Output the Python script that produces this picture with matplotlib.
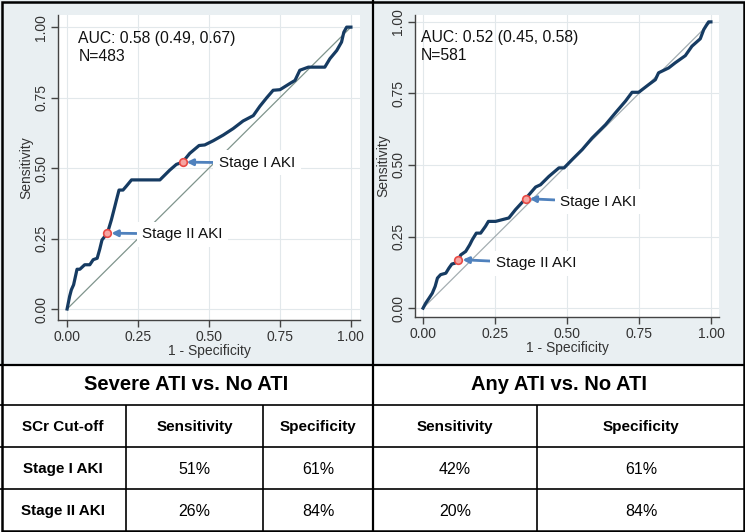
import matplotlib
matplotlib.use('Agg')
from matplotlib import pyplot as plt
from matplotlib.patches import Rectangle

plt.rcParams['font.family'] = ['Liberation Sans', 'DejaVu Sans']

# ROC, severe ATI vs. no ATI
fpr_severe = [0, 0.009, 0.015, 0.023, 0.035, 0.045, 0.062, 0.080, 0.092, 0.106,
              0.115, 0.123, 0.142, 0.156, 0.168, 0.174, 0.183, 0.197, 0.209, 0.227,
              0.327, 0.362, 0.385, 0.407, 0.432, 0.465, 0.485, 0.515, 0.550, 0.585,
              0.620, 0.656, 0.679, 0.703, 0.726, 0.750, 0.785, 0.803, 0.820, 0.850,
              0.908, 0.926, 0.950, 0.967, 0.975, 0.985, 1.0]
tpr_severe = [0, 0.045, 0.068, 0.086, 0.141, 0.141, 0.157, 0.157, 0.175, 0.180,
              0.212, 0.245, 0.269, 0.316, 0.363, 0.387, 0.422, 0.422, 0.436, 0.458,
              0.458, 0.493, 0.513, 0.521, 0.552, 0.580, 0.582, 0.597, 0.617, 0.640,
              0.667, 0.686, 0.719, 0.749, 0.776, 0.778, 0.800, 0.811, 0.847, 0.858,
              0.858, 0.888, 0.917, 0.947, 0.982, 1.0, 1.0]
auc_severe = 'AUC: 0.58 (0.49, 0.67)'
n_severe = 'N=483'
cuts_severe = [(0.407, 0.521), (0.142, 0.269)]

# ROC, any ATI vs. no ATI
fpr_any = [0, 0.009, 0.021, 0.032, 0.042, 0.050, 0.061, 0.079, 0.090, 0.100,
           0.111, 0.123, 0.131, 0.148, 0.162, 0.171, 0.185, 0.200, 0.217, 0.227,
           0.252, 0.298, 0.321, 0.342, 0.356, 0.373, 0.391, 0.408, 0.437, 0.472,
           0.490, 0.518, 0.553, 0.587, 0.634, 0.668, 0.703, 0.726, 0.749, 0.784,
           0.807, 0.818, 0.853, 0.876, 0.911, 0.934, 0.963, 0.975, 0.986, 0.992, 1.0]
tpr_any = [0, 0.017, 0.035, 0.052, 0.076, 0.105, 0.117, 0.122, 0.140, 0.154,
           0.157, 0.169, 0.186, 0.198, 0.221, 0.239, 0.262, 0.262, 0.286, 0.303,
           0.303, 0.315, 0.344, 0.367, 0.382, 0.402, 0.423, 0.431, 0.460, 0.490,
           0.490, 0.519, 0.554, 0.594, 0.641, 0.682, 0.723, 0.754, 0.754, 0.781,
           0.798, 0.822, 0.839, 0.857, 0.882, 0.915, 0.941, 0.973, 0.991, 1.0, 1.0]
auc_any = 'AUC: 0.52 (0.45, 0.58)'
n_any = 'N=581'
cuts_any = [(0.356, 0.382), (0.123, 0.169)]

cut_names = ['Stage I AKI', 'Stage II AKI']
ticks = [0, 0.25, 0.5, 0.75, 1.0]
tick_labels = ['0.00', '0.25', '0.50', '0.75', '1.00']

# table
table_groups = ['Severe ATI vs. No ATI', 'Any ATI vs. No ATI']
table_header = ['SCr Cut-off', 'Sensitivity', 'Specificity', 'Sensitivity', 'Specificity']
table_rows = [['Stage I AKI', '51%', '61%', '42%', '61%'],
              ['Stage II AKI', '26%', '84%', '20%', '84%']]

W, H = 745, 532
BG = '#e9eff2'
LINE = '#163b62'


def plot_roc(ax, fpr, tpr, auc_txt, n_txt, cuts, label_xy, text_xy, xlim, ylim, diag_col):
    ax.set_xlim(*xlim)
    ax.set_ylim(*ylim)
    ax.grid(True, color='#e2e8eb', lw=0.8, zorder=0)
    ax.set_axisbelow(True)
    ax.plot([0, 1], [0, 1], color=diag_col, lw=0.9, zorder=1)
    ax.plot(fpr, tpr, color=LINE, lw=2.3, zorder=3, solid_joinstyle='round')
    for name, (x, y), (tx, ty) in zip(cut_names, cuts, label_xy):
        ax.annotate(name, xy=(x + 0.014, y), xytext=(tx, ty), ha='left', va='center',
                    fontsize=11, color='#111111', zorder=4,
                    bbox=dict(facecolor='white', edgecolor='none', pad=4),
                    arrowprops=dict(arrowstyle='-|>', color='#4f81bd', lw=2,
                                    mutation_scale=9, shrinkA=0, shrinkB=0))
        ax.plot(x, y, 'o', ms=5.5, mfc='#f6a5a2', mec='#e84a45', mew=1.2, zorder=5)
    ax.text(text_xy[0], text_xy[1], auc_txt + '\n' + n_txt, ha='left', va='top',
            fontsize=11.3, color='#111111', linespacing=1.2)
    for s in ['top', 'right']:
        ax.spines[s].set_visible(False)
    for s in ['left', 'bottom']:
        ax.spines[s].set_color('#444444')
        ax.spines[s].set_linewidth(1.0)
    ax.set_xticks(ticks)
    ax.set_xticklabels(tick_labels)
    ax.set_yticks(ticks)
    ax.set_yticklabels(tick_labels, rotation=90, va='center')
    ax.tick_params(direction='out', length=5, width=1, color='#444444',
                   labelcolor='#333333', labelsize=10, pad=2)
    ax.set_xlabel('1 - Specificity', fontsize=10, color='#333333', labelpad=0)
    ax.set_ylabel('Sensitivity', fontsize=10, color='#333333', labelpad=1)


fig = plt.figure(figsize=(W / 100, H / 100), dpi=100)
fig.patch.set_facecolor('white')

# background frame, table and borders in pixel units
bg = fig.add_axes([0, 0, 1, 1], zorder=-1)
bg.set_xlim(0, W)
bg.set_ylim(H, 0)
bg.axis('off')
bg.add_patch(Rectangle((0, 0), W, 365, facecolor=BG, edgecolor='none'))

ax1 = fig.add_axes([58 / W, 1 - 320 / H, 302 / W, 305 / H])
plot_roc(ax1, fpr_severe, tpr_severe, auc_severe, n_severe, cuts_severe,
         [(0.535, 0.518), (0.264, 0.266)], (0.04, 0.985),
         (-0.032, 1.032), (-0.039, 1.043), '#7f948c')

ax2 = fig.add_axes([415 / W, 1 - 317 / H, 304 / W, 302 / H])
plot_roc(ax2, fpr_any, tpr_any, auc_any, n_any, cuts_any,
         [(0.476, 0.371), (0.253, 0.157)], (-0.007, 0.97),
         (-0.028, 1.028), (-0.031, 1.024), '#a4aeb2')

cols = [0, 126, 263, 373, 537, 745]
rows = [365, 405, 447, 489, 531]
lk = dict(color='black', lw=1.2, solid_capstyle='butt')
for y in rows[1:-1]:
    bg.plot([0, W], [y, y], **lk)
bg.plot([0, W], [364.5, 364.5], color='black', lw=1.6)
bg.plot([373, 373], [0, 531], color='black', lw=1.6)
for x in [cols[1], cols[2], cols[4]]:
    bg.plot([x, x], [rows[1], rows[-1]], **lk)
bg.add_patch(Rectangle((1.5, 1.5), 742, 529.5, facecolor='none',
                       edgecolor='black', lw=1.8))

group_spans = [(0, 373), (373, 745)]
for txt, (a, b) in zip(table_groups, group_spans):
    bg.text((a + b) / 2, (rows[0] + rows[1]) / 2, txt, ha='center', va='center',
            fontsize=14.5, fontweight='bold')
for i, txt in enumerate(table_header):
    bg.text((cols[i] + cols[i + 1]) / 2, (rows[1] + rows[2]) / 2 + 1, txt,
            ha='center', va='center', fontsize=11, fontweight='bold')
for r, row in enumerate(table_rows):
    yc = (rows[r + 2] + rows[r + 3]) / 2 + 1
    for i, txt in enumerate(row):
        bg.text((cols[i] + cols[i + 1]) / 2, yc, txt, ha='center', va='center',
                fontsize=11 if i == 0 else 11.5,
                fontweight='bold' if i == 0 else 'normal')

fig.savefig('out.png', dpi=100, facecolor=fig.get_facecolor())
